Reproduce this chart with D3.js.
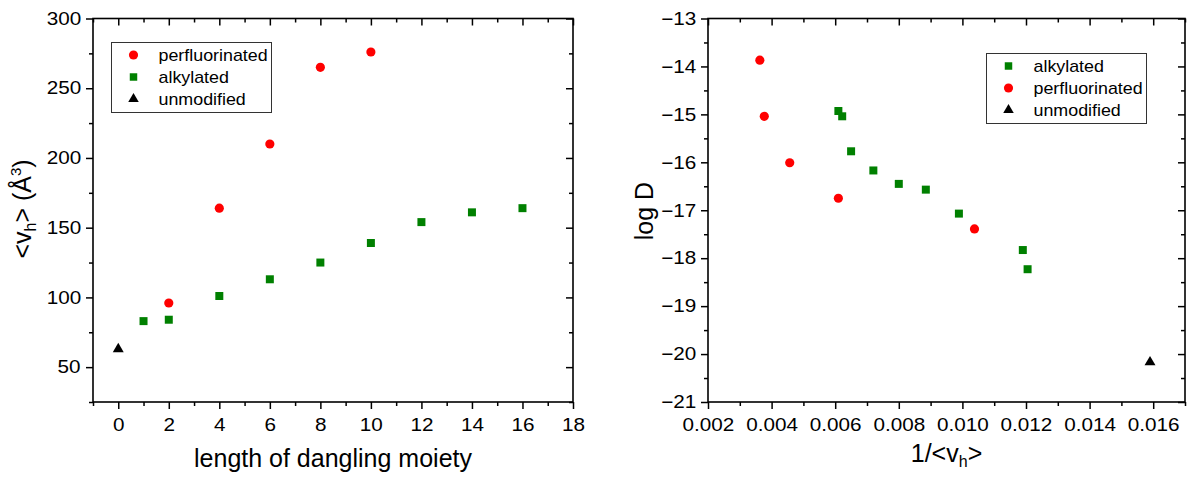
<!DOCTYPE html>
<html>
<head>
<meta charset="utf-8">
<script src="https://cdn.jsdelivr.net/npm/d3@7"></script>
<style>
  html, body { margin: 0; padding: 0; background: #fff; }
  svg { display: block; font-family: "Liberation Sans", Arial, sans-serif; }
  .tk text { font-size: 18px; fill: #000; transform-box: fill-box; transform-origin: center; transform: scaleX(1.15); }
  .tk line { stroke: #000; stroke-width: 1.5; }
  .tk path { display: none; }
  .leg text { font-size: 17px; fill: #000; transform-box: fill-box; transform-origin: left center; transform: scaleX(1.05); }
  .ttl { font-size: 25px; fill: #000; }
</style>
</head>
<body>
<svg id="chart" width="1197" height="477"></svg>
<script>
// ---------- Data: left panel ----------
const perfLength = [2, 4, 6, 8, 10];
const perfVh     = [96, 164, 210, 265, 276];
const alkLength  = [1, 2, 4, 6, 8, 10, 12, 14, 16];
const alkVh      = [83, 84, 101, 113, 125, 139, 154, 161, 164];
const unmodLength = [0];
const unmodVh     = [63];

// ---------- Data: right panel ----------
const alkInvVh   = [0.0061, 0.00622, 0.0065, 0.0072, 0.0080, 0.00885, 0.00989, 0.0119, 0.01205];
const alkLogD    = [-14.93, -15.04, -15.77, -16.17, -16.45, -16.57, -17.07, -17.83, -18.23];
const perfInvVh  = [0.00363, 0.00377, 0.00457, 0.0061, 0.01038];
const perfLogD   = [-13.87, -15.04, -16.01, -16.75, -17.39];
const unmodInvVh = [0.0159];
const unmodLogD  = [-20.17];

// ---------- Ticks ----------
const leftXTicks = [0, 2, 4, 6, 8, 10, 12, 14, 16, 18];
const leftXMinor = [-1, 1, 3, 5, 7, 9, 11, 13, 15, 17];
const leftYTicks = [50, 100, 150, 200, 250, 300];
const leftYMinor = [25, 75, 125, 175, 225, 275];
const rightXTicks = [0.002, 0.004, 0.006, 0.008, 0.010, 0.012, 0.014, 0.016];
const rightXMinor = [0.003, 0.005, 0.007, 0.009, 0.011, 0.013, 0.015, 0.017];
const rightYTicks = [-21, -20, -19, -18, -17, -16, -15, -14, -13];
const rightYMinor = [-20.5, -19.5, -18.5, -17.5, -16.5, -15.5, -14.5, -13.5];

const RED = "#ff0000", GREEN = "#008000", BLACK = "#000000";

const svg = d3.select("#chart");

function zip(xs, ys) { return xs.map((x, i) => [x, ys[i]]); }

function panel(cfg) {
  const { x, y, xTicks, xMinor, yTicks, yMinor, xFmt } = cfg;
  const [x0, x1] = x.range();
  const [y0, y1] = y.range(); // y0 bottom, y1 top
  const g = svg.append("g");

  g.append("g").attr("class", "tk").attr("transform", `translate(0,${y0})`)
    .call(d3.axisBottom(x).tickValues(xMinor).tickSize(4).tickSizeOuter(0).tickFormat(""));
  g.append("g").attr("class", "tk").attr("transform", `translate(0,${y0})`)
    .call(d3.axisBottom(x).tickValues(xTicks).tickSize(7).tickPadding(9).tickSizeOuter(0).tickFormat(xFmt));
  g.append("g").attr("class", "tk").attr("transform", `translate(0,${y1})`)
    .call(d3.axisTop(x).tickValues(xMinor).tickSize(-4).tickSizeOuter(0).tickFormat(""));
  g.append("g").attr("class", "tk").attr("transform", `translate(0,${y1})`)
    .call(d3.axisTop(x).tickValues(xTicks).tickSize(-7).tickSizeOuter(0).tickFormat(""));
  g.append("g").attr("class", "tk").attr("transform", `translate(${x0},0)`)
    .call(d3.axisLeft(y).tickValues(yMinor).tickSize(4).tickSizeOuter(0).tickFormat(""));
  g.append("g").attr("class", "tk").attr("transform", `translate(${x0},0)`)
    .call(d3.axisLeft(y).tickValues(yTicks).tickSize(7).tickPadding(7).tickSizeOuter(0).tickFormat(d3.format("d")));
  g.append("g").attr("class", "tk").attr("transform", `translate(${x1},0)`)
    .call(d3.axisRight(y).tickValues(yMinor).tickSize(-4).tickSizeOuter(0).tickFormat(""));
  g.append("g").attr("class", "tk").attr("transform", `translate(${x1},0)`)
    .call(d3.axisRight(y).tickValues(yTicks).tickSize(-7).tickSizeOuter(0).tickFormat(""));

  g.append("rect")
    .attr("x", x0).attr("y", y1).attr("width", x1 - x0).attr("height", y0 - y1)
    .attr("fill", "none").attr("stroke", "#000").attr("stroke-width", 1.6);
  return g;
}

const symCircle = d3.symbol().type(d3.symbolCircle).size(66)();
const symSquare = d3.symbol().type(d3.symbolSquare).size(64)();
const symTri = d3.symbol().type(d3.symbolTriangle).size(52)();

function points(g, x, y, data, path, color) {
  g.append("g").selectAll("path").data(data).join("path")
    .attr("d", path)
    .attr("transform", d => `translate(${x(d[0])},${y(d[1])})`)
    .attr("fill", color);
}

function legend(bx, by, items) {
  const g = svg.append("g").attr("class", "leg").attr("transform", `translate(${bx},${by})`);
  g.append("rect").attr("x", 0).attr("y", 0).attr("width", 160).attr("height", 70)
    .attr("fill", "#fff").attr("stroke", "#333").attr("stroke-width", 1);
  const rowY = [12.5, 34.5, 56.5];
  items.forEach((it, i) => {
    g.append("path").attr("d", it.path).attr("transform", `translate(22,${rowY[i]})`).attr("fill", it.color);
    g.append("text").attr("x", 47).attr("y", rowY[i]).attr("dy", "0.35em").text(it.label);
  });
}

// ---------- Left panel ----------
const xL = d3.scaleLinear().domain([-1, 18]).range([93, 573]);
const yL = d3.scaleLinear().domain([25, 300]).range([402, 18.5]);
const gL = panel({ x: xL, y: yL, xTicks: leftXTicks, xMinor: leftXMinor, yTicks: leftYTicks, yMinor: leftYMinor, xFmt: d3.format("d") });
points(gL, xL, yL, zip(perfLength, perfVh), symCircle, RED);
points(gL, xL, yL, zip(alkLength, alkVh), symSquare, GREEN);
points(gL, xL, yL, zip(unmodLength, unmodVh), symTri, BLACK);
legend(111.5, 42.5, [
  { label: "perfluorinated", path: symCircle, color: RED },
  { label: "alkylated", path: d3.symbol().type(d3.symbolSquare).size(56)(), color: GREEN },
  { label: "unmodified", path: d3.symbol().type(d3.symbolTriangle).size(48)(), color: BLACK }
]);

svg.append("text").attr("class", "ttl").attr("x", 333).attr("y", 467)
  .attr("text-anchor", "middle").text("length of dangling moiety");

const tY = svg.append("text").attr("class", "ttl")
  .attr("transform", "translate(31,209) rotate(-90)").attr("text-anchor", "middle");
tY.append("tspan").text("<v");
tY.append("tspan").attr("font-size", "16px").attr("baseline-shift", "-0.3em").text("h");
tY.append("tspan").text("> (Å");
tY.append("tspan").attr("font-size", "15px").attr("baseline-shift", "0.7em").text("3");
tY.append("tspan").text(")");

// ---------- Right panel ----------
const xR = d3.scaleLinear().domain([0.002, 0.017]).range([708, 1185]);
const yR = d3.scaleLinear().domain([-21, -13]).range([402, 18.5]);
const gR = panel({ x: xR, y: yR, xTicks: rightXTicks, xMinor: rightXMinor, yTicks: rightYTicks, yMinor: rightYMinor, xFmt: d3.format(".3f") });
points(gR, xR, yR, zip(alkInvVh, alkLogD), symSquare, GREEN);
points(gR, xR, yR, zip(perfInvVh, perfLogD), symCircle, RED);
points(gR, xR, yR, zip(unmodInvVh, unmodLogD), symTri, BLACK);
legend(986.5, 53.5, [
  { label: "alkylated", path: d3.symbol().type(d3.symbolSquare).size(56)(), color: GREEN },
  { label: "perfluorinated", path: symCircle, color: RED },
  { label: "unmodified", path: d3.symbol().type(d3.symbolTriangle).size(48)(), color: BLACK }
]);

const tX2 = svg.append("text").attr("class", "ttl").attr("x", 946.5).attr("y", 462)
  .attr("text-anchor", "middle");
tX2.append("tspan").text("1/<v");
tX2.append("tspan").attr("font-size", "16px").attr("baseline-shift", "-0.3em").text("h");
tX2.append("tspan").text(">");

svg.append("text").attr("class", "ttl")
  .attr("transform", "translate(653,211) rotate(-90)").attr("text-anchor", "middle").text("log D");
</script>
</body>
</html>
